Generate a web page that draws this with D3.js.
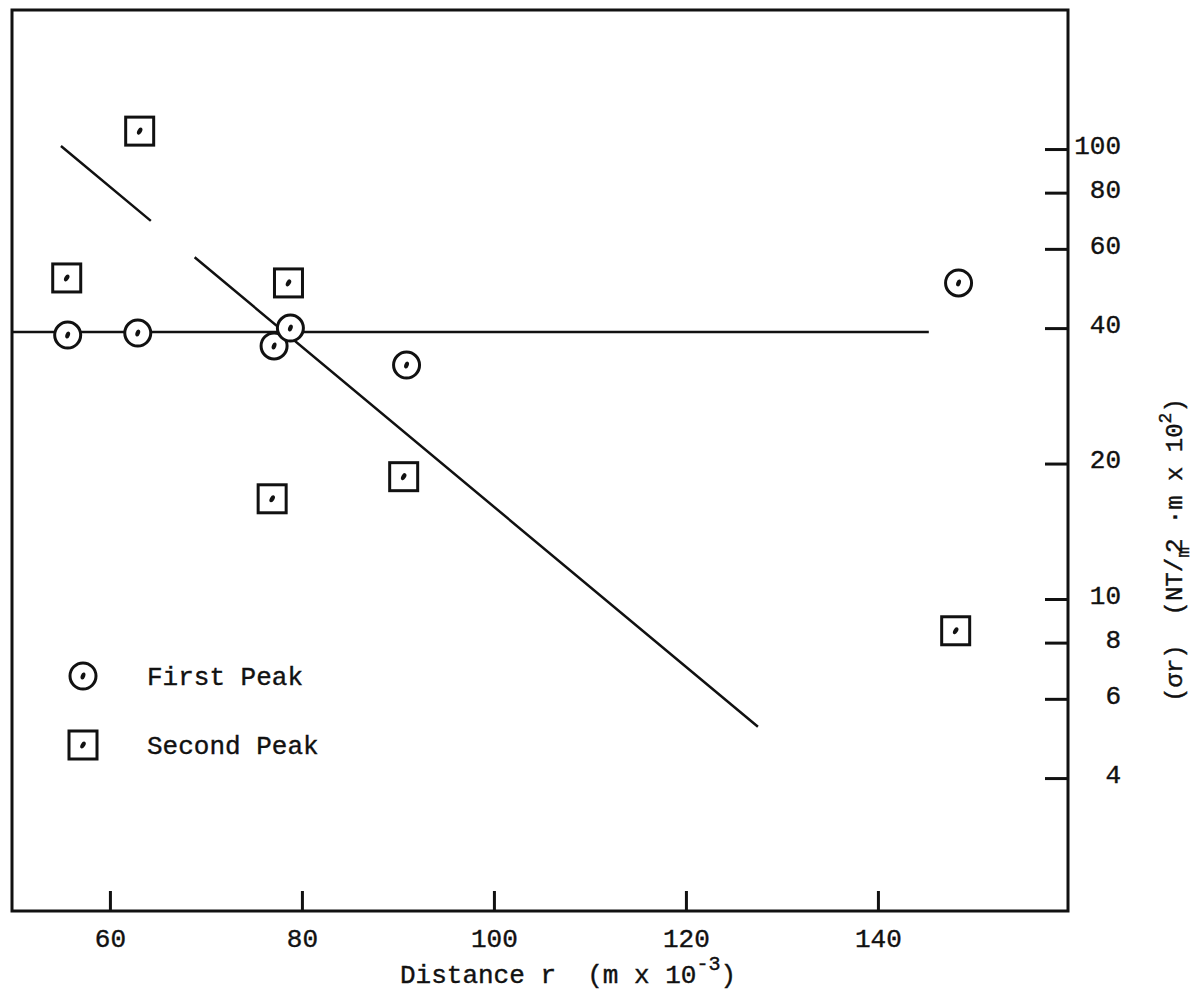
<!DOCTYPE html>
<html>
<head>
<meta charset="utf-8">
<script src="https://cdn.jsdelivr.net/npm/d3@7"></script>
<style>
  body { margin: 0; background: #fff; }
  text { font-family: "Liberation Mono", "DejaVu Sans Mono", monospace; fill: #111; white-space: pre; stroke: #111; stroke-width: 0.4px; }
</style>
</head>
<body>
<svg id="chart" width="1196" height="991"></svg>
<script>
// distance r (m x 10^-3) and (sigma r)
var firstPeakR = [55.6, 62.9, 77.1, 78.8, 90.9, 148.4];
var firstPeakV = [38.6, 39.0, 36.5, 40.0, 33.1, 50.4];
var secondPeakR = [63.1, 55.5, 78.6, 76.9, 90.6, 148.1];
var secondPeakV = [109.6, 51.7, 50.4, 16.7, 18.7, 8.5];
// fitted line and the flat line through the first peaks
var fitR = [54.9, 127.5];
var fitV = [101.6, 5.2];
var flatR = [49.8, 145.3];
var flatV = [39.2, 39.2];
var xTicks = [60, 80, 100, 120, 140];
var yTicks = [4, 6, 8, 10, 20, 40, 60, 80, 100];
var legendLabels = ["First Peak", "Second Peak"];

var svg = d3.select("#chart");
var padL = 12, padR = 1068, padT = 10, padB = 911;

var x = d3.scaleLinear().domain([49.8, 159.8]).range([padL, padR]);
var y = d3.scaleLog().domain([2.026, 203.7]).range([padB, padT]);

// frame
svg.append("rect")
  .attr("x", padL).attr("y", padT)
  .attr("width", padR - padL).attr("height", padB - padT)
  .style("fill", "none").style("stroke", "#111").style("stroke-width", 3);

// x axis, ticks pointing up
var xAxis = svg.append("g")
  .attr("transform", "translate(0," + padB + ")")
  .call(d3.axisBottom(x).tickValues(xTicks).tickSizeInner(-20).tickSizeOuter(0).tickPadding(18));
xAxis.select(".domain").remove();
xAxis.selectAll("line").style("stroke", "#111").style("stroke-width", 3);
xAxis.selectAll("text").style("font-size", "26px").attr("fill", "#111");

// y axis on the right, ticks pointing left
var yAxis = svg.append("g")
  .attr("transform", "translate(" + padR + ",0)")
  .call(d3.axisRight(y).tickValues(yTicks).tickFormat(d3.format("d")).tickSizeInner(-23).tickSizeOuter(0));
yAxis.select(".domain").remove();
yAxis.selectAll("line").style("stroke", "#111").style("stroke-width", 3);
yAxis.selectAll("text")
  .attr("x", 53).attr("dy", "0.17em")
  .style("text-anchor", "end").style("font-size", "26px").attr("fill", "#111");

// lines
var line = d3.line().x(d => x(d[0])).y(d => y(d[1]));
svg.append("path")
  .datum(d3.zip(flatR, flatV))
  .attr("d", line)
  .style("fill", "none").style("stroke", "#111").style("stroke-width", 2.5);
svg.append("path")
  .datum(d3.zip(fitR, fitV))
  .attr("d", line)
  .style("fill", "none").style("stroke", "#111").style("stroke-width", 2.5)
  .style("stroke-dasharray", "117 57 2000");

// markers
function circleMark(g, cx, cy){
  g.append("circle").attr("cx", cx).attr("cy", cy).attr("r", 13)
    .style("fill", "#fff").style("stroke", "#111").style("stroke-width", 3);
  g.append("ellipse").attr("rx", 2.2).attr("ry", 3.6)
    .attr("transform", "translate(" + cx + "," + cy + ") rotate(20)")
    .style("fill", "#111");
}
function squareMark(g, cx, cy){
  g.append("rect").attr("x", cx - 14).attr("y", cy - 14).attr("width", 28).attr("height", 28)
    .style("fill", "#fff").style("stroke", "#111").style("stroke-width", 3);
  g.append("ellipse").attr("rx", 2.2).attr("ry", 3.8)
    .attr("transform", "translate(" + cx + "," + cy + ") rotate(30)")
    .style("fill", "#111");
}

var pts = svg.append("g");
d3.zip(secondPeakR, secondPeakV).forEach(function(d){ squareMark(pts, x(d[0]), y(d[1])); });
d3.zip(firstPeakR, firstPeakV).forEach(function(d){ circleMark(pts, x(d[0]), y(d[1])); });

// legend
var legend = svg.append("g");
legendLabels.forEach(function(d, i){
  var ly = 676 + i * 69;
  if (i == 0) circleMark(legend, 83, ly); else squareMark(legend, 83, ly);
  legend.append("text")
    .attr("x", 147).attr("y", ly + 9)
    .style("font-size", "26px")
    .text(d);
});

// axis titles
var xt = svg.append("text").attr("x", 400).attr("y", 983).style("font-size", "26px");
xt.append("tspan").text("Distance r  (m x 10");
xt.append("tspan").attr("dy", -13).style("font-size", "20px").text("-3");
xt.append("tspan").attr("dy", 13).text(")");

var yt = svg.append("text")
  .attr("transform", "translate(1182,550) rotate(-90)")
  .style("text-anchor", "middle").style("font-size", "24px");
yt.append("tspan").text("(\u03c3r)  (NT/");
yt.append("tspan").attr("dy", 7).style("font-size", "18px").text("m");
yt.append("tspan").attr("dy", -7).attr("dx", -6).text("2 \u00b7m x 10");
yt.append("tspan").attr("dy", -11).style("font-size", "18px").text("2");
yt.append("tspan").attr("dy", 11).text(")");
</script>
</body>
</html>
